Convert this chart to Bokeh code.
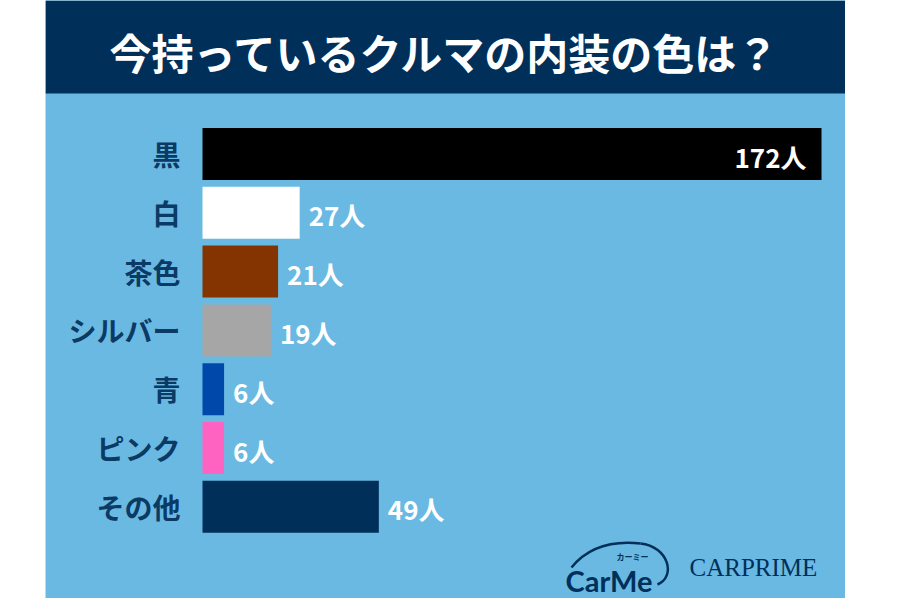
from bokeh.plotting import figure
from bokeh.models import ColumnDataSource, Range1d, BoxAnnotation, Label, Spacer
from bokeh.layouts import row
from bokeh.core.properties import value
from bokeh.embed import file_html
from bokeh.resources import INLINE

# ---- data ----
categories = ["黒", "白", "茶色", "シルバー", "青", "ピンク", "その他"]
counts = [172, 27, 21, 19, 6, 6, 49]
bar_colors = ["#000000", "#ffffff", "#833400", "#a6a6a6", "#0049ab", "#ff63c2", "#00305a"]
unit = "人"
title_text = "今持っているクルマの内装の色は？"

# ---- style / layout ----
BG = "#69b9e2"
NAVY = "#00305a"
LABEL_NAVY = "#0b3a64"
JP = "Noto Sans CJK JP"
JP_FONT = value(JP)

W, H = 800, 598
PANEL_LEFT = 45          # screen px
BAR0 = 202               # screen px where bars start
PPU = 619 / 172          # px per unit
ROW_PX = 58.8
FIRST_CENTER = 153.5     # px of first row center
n = len(categories)

x_start = -(BAR0 - PANEL_LEFT) / PPU
x_end = (PANEL_LEFT + W - BAR0) / PPU
y_end = (n - 1) + FIRST_CENTER / ROW_PX
y_start = y_end - H / ROW_PX


def sx(px):
    return x_start + (px - PANEL_LEFT) / PPU


def sy(py):
    return y_end - py / ROW_PX


ypos = [n - 1 - i for i in range(n)]
src = ColumnDataSource(dict(y=ypos, cat=categories, count=counts, color=bar_colors,
                            base=[0] * n))

inside = [i for i, c in enumerate(counts) if c > 100]
outside = [i for i, c in enumerate(counts) if c <= 100]
src_in = ColumnDataSource(dict(y=[ypos[i] for i in inside], x=[counts[i] for i in inside],
                               t=[f"{counts[i]}{unit}" for i in inside]))
src_out = ColumnDataSource(dict(y=[ypos[i] for i in outside], x=[counts[i] for i in outside],
                                t=[f"{counts[i]}{unit}" for i in outside]))

p = figure(width=W, height=H, output_backend="svg", toolbar_location=None,
           x_axis_type=None, y_axis_type=None,
           x_range=Range1d(x_start, x_end), y_range=Range1d(y_start, y_end),
           min_border=0, min_border_left=0, min_border_right=0,
           min_border_top=0, min_border_bottom=0)
p.background_fill_color = BG
p.border_fill_color = BG
p.outline_line_color = None
p.grid.visible = False

# title bar
p.add_layout(BoxAnnotation(bottom=sy(93), fill_color=NAVY, fill_alpha=1.0, line_color=None))
p.add_layout(Label(x=sx(445), y=sy(51), text=title_text, text_align="center",
                   text_baseline="middle", text_color="white", text_font=JP,
                   text_font_style="bold", text_font_size="42px"))

# bars
p.hbar(y="y", left="base", right="count", height=0.885, fill_color="color",
       line_color=None, source=src)

# category labels
p.text(x="base", y="y", text="cat", source=src, x_offset=-22, text_align="right",
       text_baseline="middle", text_color=LABEL_NAVY, text_font=JP_FONT,
       text_font_style="bold", text_font_size="28px")

# value labels
p.text(x="x", y="y", text="t", source=src_in, x_offset=-15, y_offset=2, text_align="right",
       text_baseline="middle", text_color="white", text_font=JP_FONT,
       text_font_style="bold", text_font_size="26px")
p.text(x="x", y="y", text="t", source=src_out, x_offset=9, y_offset=2, text_align="left",
       text_baseline="middle", text_color="white", text_font=JP_FONT,
       text_font_style="bold", text_font_size="26px")

# logos (decoration)
p.bezier(x0=[sx(571)], y0=[sy(567)], x1=[sx(640)], y1=[sy(543)],
         cx0=[sx(588)], cy0=[sy(546)], cx1=[sx(612)], cy1=[sy(540)],
         line_color=NAVY, line_width=2.5)
p.bezier(x0=[sx(640)], y0=[sy(543)], x1=[sx(657)], y1=[sy(584)],
         cx0=[sx(668)], cy0=[sy(546)], cx1=[sx(676)], cy1=[sy(576)],
         line_color=NAVY, line_width=2.5)
p.add_layout(Label(x=sx(565), y=sy(580), text="CarMe", text_align="left",
                   text_baseline="alphabetic", text_color=NAVY, text_font="Lato",
                   text_font_style="bold", text_font_size="29px"))
p.add_layout(Label(x=sx(616), y=sy(556), text="カーミー", text_align="left",
                   text_baseline="middle", text_color=NAVY, text_font=JP,
                   text_font_style="bold", text_font_size="8px"))
p.add_layout(Label(x=sx(689), y=sy(567), text="CARPRIME", text_align="left",
                   text_baseline="middle", text_color=NAVY, text_font="Liberation Serif",
                   text_font_size="25px"))

layout = row(Spacer(width=PANEL_LEFT, height=H), p)
open("out.html", "w").write(file_html(layout, INLINE))
